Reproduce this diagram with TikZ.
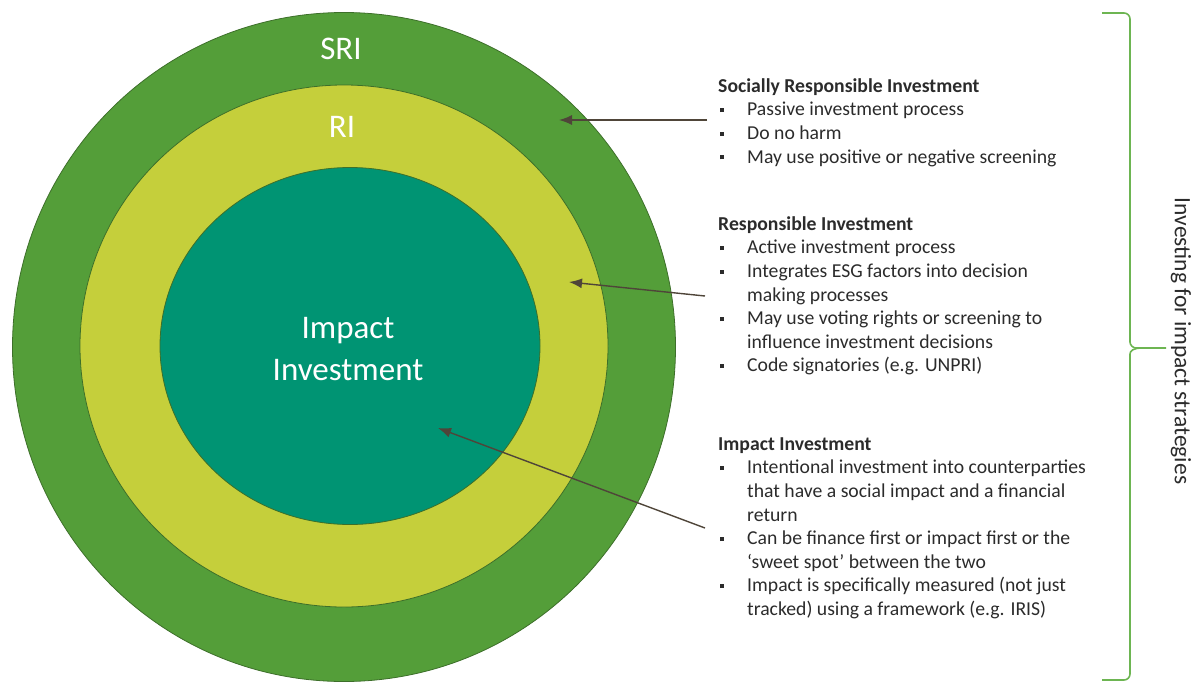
\documentclass[tikz,border=0pt]{standalone}
\usepackage{fontspec}
\setmainfont{Carlito}
\usetikzlibrary{arrows.meta, shapes.geometric}

\definecolor{srigreen}{HTML}{549E39}
\definecolor{rilime}{HTML}{C5CF3B}
\definecolor{impteal}{HTML}{009473}
\definecolor{ringedge}{HTML}{3D6F2A}
\definecolor{arrowbrown}{HTML}{4F4539}
\definecolor{bracegreen}{HTML}{6DB552}
\definecolor{bodytext}{HTML}{2B2B2B}

\newcommand{\sqbul}{\makebox[29pt][l]{\hspace{2pt}\raisebox{3.6pt}{\rule{4.2pt}{4.2pt}}}}

\begin{document}
\begin{tikzpicture}[x=1pt, y=-1pt,
    ring/.style={ellipse, draw=ringedge, line width=0.8pt},
    ringlabel/.style={text=white, font=\fontsize{33}{42}\selectfont, align=center},
    note/.style={anchor=north west, inner sep=0pt, text=bodytext, font=\fontsize{19.7}{23.6}\selectfont},
    pointer/.style={draw=arrowbrown, line width=1.4pt, -{Latex[length=13pt, width=10pt]}},
    bracepath/.style={draw=bracegreen, line width=1.6pt, rounded corners=6pt}]
  \useasboundingbox (0,0) rectangle (1194,683);

  \node[ring, fill=srigreen, minimum width=663pt, minimum height=669pt] (sri) at (344,347) {};
  \node[ring, fill=rilime, minimum width=528pt, minimum height=522pt] (ri) at (344,346) {};
  \node[ring, fill=impteal, minimum width=380pt, minimum height=357pt] (impact) at (350,346) {};

  \node[ringlabel] (srilabel) at (341,49) {SRI};
  \node[ringlabel] (rilabel) at (342,127) {RI};
  \node[ringlabel] (impactlabel) at (348,349) {Impact\\Investment};

  \node[note] (srinote) at (718,75.5) {\begin{tabular}{@{}l@{}l@{}}
    \multicolumn{2}{@{}l@{}}{\textbf{Socially Responsible Investment}}\\
    \sqbul & Passive investment process\\
    \sqbul & Do no harm\\
    \sqbul & May use positive or negative screening
  \end{tabular}};
  \node[note] (rinote) at (718,213.5) {\begin{tabular}{@{}l@{}l@{}}
    \multicolumn{2}{@{}l@{}}{\textbf{Responsible Investment}}\\
    \sqbul & Active investment process\\
    \sqbul & Integrates ESG factors into decision\\
           & making processes\\
    \sqbul & May use voting rights or screening to\\
           & influence investment decisions\\
    \sqbul & Code signatories (e.g. UNPRI)
  \end{tabular}};
  \node[note] (impactnote) at (718,433.5) {\begin{tabular}{@{}l@{}l@{}}
    \multicolumn{2}{@{}l@{}}{\textbf{Impact Investment}}\\
    \sqbul & Intentional investment into counterparties\\
           & that have a social impact and a financial\\
           & return\\
    \sqbul & Can be finance first or impact first or the\\
           & ‘sweet spot’ between the two\\
    \sqbul & Impact is specifically measured (not just\\
           & tracked) using a framework (e.g. IRIS)
  \end{tabular}};

  \coordinate (srifrom) at (707,120);
  \coordinate (srito) at (559,120);
  \coordinate (rifrom) at (705,296);
  \coordinate (rito) at (569,282);
  \coordinate (impactfrom) at (705,528);
  \coordinate (impactto) at (438,428);
  \draw[pointer] (srifrom) -- (srito);
  \draw[pointer] (rifrom) -- (rito);
  \draw[pointer] (impactfrom) -- (impactto);

  \draw[bracepath] (1102,13) -- (1130,13) -- (1130,336) .. controls (1130,345) and (1133,348) .. (1142,348) -- (1166,348);
  \draw[bracepath] (1142,348) .. controls (1133,348) and (1130,351) .. (1130,360) -- (1130,680) -- (1102,680);
  \node[rotate=-90, text=bodytext, font=\fontsize{23.5}{28}\selectfont] (bracelabel) at (1181,341) {Investing for impact strategies};
\end{tikzpicture}
\end{document}
